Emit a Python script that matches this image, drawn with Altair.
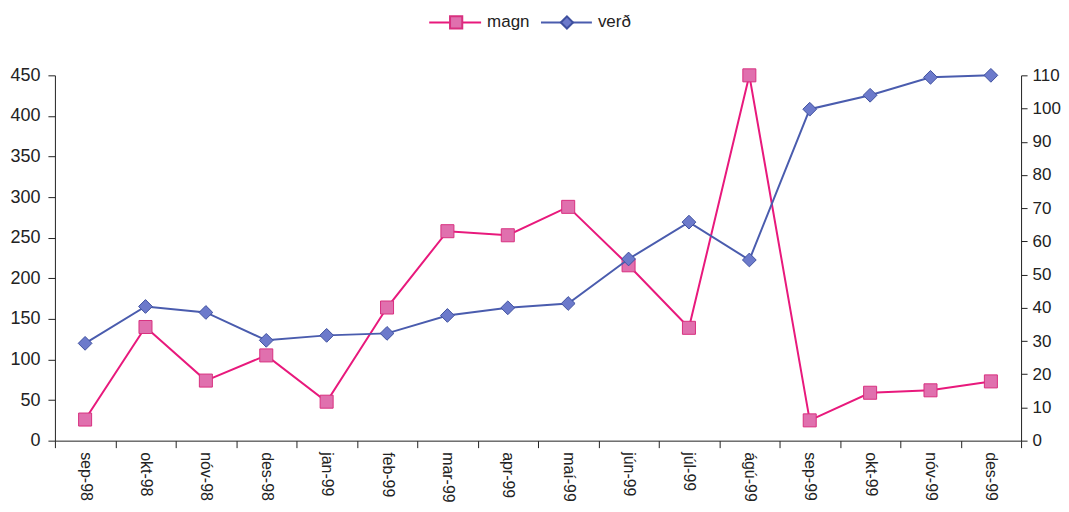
import altair as alt
import pandas as pd

months = ["sep-98", "okt-98", "nóv-98", "des-98", "jan-99", "feb-99", "mar-99", "apr-99",
          "maí-99", "jún-99", "júl-99", "ágú-99", "sep-99", "okt-99", "nóv-99", "des-99"]
magn = [26, 140, 74, 105, 48, 164, 258, 253, 288, 216, 139, 450, 25, 59, 62, 73]
verd = [29.3, 40.4, 38.6, 30.2, 31.7, 32.3, 37.7, 40.0, 41.3, 54.7, 65.8, 54.4, 99.8, 104.0, 109.4, 110.0]
series = ["magn", "verð"]

PINK_LINE = "#e8197c"
PINK_FILL = "#e070ae"
PINK_EDGE = "#d8307f"
BLUE_LINE = "#4a5cae"
BLUE_FILL = "#6c7acb"
BLUE_EDGE = "#3f509f"
FONT = "Liberation Sans"

df = pd.DataFrame({"month": months, "magn": magn, "verd": verd})

xenc = alt.X("month:N", sort=months, title=None,
             scale=alt.Scale(type="band", paddingInner=0, paddingOuter=0),
             axis=alt.Axis(labelAngle=90, labelAlign="left", labelBaseline="middle",
                           labelPadding=4, tickBand="extent", tickSize=7,
                           domainColor="#222", tickColor="#222", labelColor="#222",
                           labelFontSize=16, labelFont=FONT, grid=False))

left_y = alt.Y("magn:Q", title=None,
               scale=alt.Scale(domain=[0, 450], nice=False),
               axis=alt.Axis(values=list(range(0, 451, 50)), orient="left", tickSize=7,
                             labelPadding=8, domainColor="#222", tickColor="#222",
                             labelColor="#222", labelFontSize=18, labelFont=FONT, grid=False))
right_y = alt.Y("verd:Q", title=None,
                scale=alt.Scale(domain=[0, 110], nice=False),
                axis=alt.Axis(values=list(range(0, 111, 10)), orient="right", tickSize=6,
                              labelPadding=5, domainColor="#222", tickColor="#222",
                              labelColor="#222", labelFontSize=17, labelFont=FONT, grid=False))

magn_line = alt.Chart(df).mark_line(color=PINK_LINE, strokeWidth=2).encode(x=xenc, y=left_y)
magn_pts = alt.Chart(df).mark_point(shape="square", size=170, filled=True, fill=PINK_FILL,
                                    stroke=PINK_EDGE, strokeWidth=1, opacity=1).encode(x=xenc, y=left_y)
verd_line = alt.Chart(df).mark_line(color=BLUE_LINE, strokeWidth=2).encode(x=xenc, y=right_y)
verd_pts = alt.Chart(df).mark_point(shape="diamond", size=190, filled=True, fill=BLUE_FILL,
                                    stroke=BLUE_EDGE, strokeWidth=1, opacity=1).encode(x=xenc, y=right_y)

left = alt.layer(magn_line, magn_pts)
right = alt.layer(verd_line, verd_pts)

# legend (drawn manually above the plot)
leg_df = pd.DataFrame({"s": series})
def legend_item(name, x0, x1, xm, xt, color, shape, fill, edge):
    d = leg_df[leg_df.s == name]
    r = alt.Chart(d).mark_rule(color=color, strokeWidth=2).encode(
        x=alt.value(x0), x2=alt.value(x1), y=alt.value(-53))
    p = alt.Chart(d).mark_point(shape=shape, size=150, filled=True, fill=fill, stroke=edge,
                                opacity=1).encode(x=alt.value(xm), y=alt.value(-53))
    t = alt.Chart(d).mark_text(align="left", baseline="middle", fontSize=17, font=FONT,
                               color="#222").encode(x=alt.value(xt), y=alt.value(-53), text="s:N")
    return alt.layer(r, p, t)

leg1 = legend_item("magn", 375, 427, 402, 433, PINK_LINE, "square", PINK_FILL, PINK_EDGE)
leg2 = legend_item("verð", 487, 538, 513, 544, BLUE_LINE, "diamond", BLUE_FILL, BLUE_EDGE)

chart = alt.layer(left, right, leg1, leg2).resolve_scale(y="independent").properties(
    width=968, height=366,
    autosize=alt.AutoSizeParams(type="none"),
    padding={"left": 47, "top": 67, "right": 40, "bottom": 62},
    background="white",
).configure_view(stroke=None)

chart.save("out.html", embed_options={"renderer": "svg", "actions": False})
